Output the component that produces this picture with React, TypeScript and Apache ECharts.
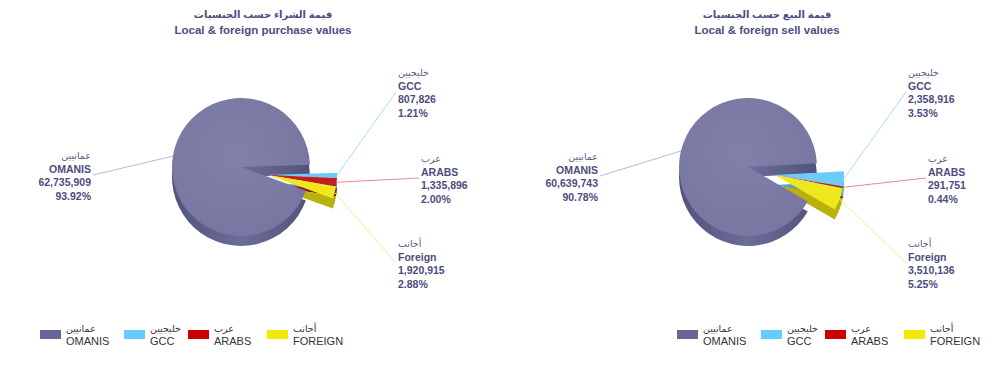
import React, { useEffect, useRef } from "react";
import * as echarts from "echarts";

// ---- data ----
const categoriesEn = ["OMANIS", "GCC", "ARABS", "FOREIGN"];
const labelNamesEn = ["OMANIS", "GCC", "ARABS", "Foreign"];
const categoriesAr = ["عمانيين", "خليجيين", "عرب", "أجانب"];
const purchaseValues = [62735909, 807826, 1335896, 1920915];
const purchasePercents = ["93.92%", "1.21%", "2.00%", "2.88%"];
const sellValues = [60639743, 2358916, 291751, 3510136];
const sellPercents = ["90.78%", "3.53%", "0.44%", "5.25%"];
const titlesAr = ["قيمة الشراء حسب الجنسيات", "قيمة البيع حسب الجنسيات"];
const titlesEn = ["Local & foreign purchase values", "Local & foreign sell values"];

// ---- styles / layout ----
const topColors = ["#7b7ba7", "#6ecbf7", "#c41f1f", "#f0e81e"];
const sideColors = ["#585886", "#4aa6d0", "#8c0e0e", "#b9b20c"];
const legendColors = ["#666699", "#66ccff", "#cc0000", "#f2ea00"];
const lineColors = ["#b8b8d0", "#a8def8", "#e88a8a", "#f2ee90"];
const textColor = "#4d4d80";
const FONT = "Arial, 'Liberation Sans', 'DejaVu Sans', sans-serif";

type LabelPos = { x: number; y: number; align: "left" | "right" };

const charts = [
  {
    values: purchaseValues,
    pcts: purchasePercents,
    center: [241, 167],
    explode: [27, 8],
    startAngle: 340,
    titleX: 258,
    legendLeft: 35,
    labelPos: [
      { x: 91, y: 149, align: "right" },
      { x: 398, y: 66, align: "left" },
      { x: 421, y: 152, align: "left" },
      { x: 398, y: 237, align: "left" },
    ] as LabelPos[],
  },
  {
    values: sellValues,
    pcts: sellPercents,
    center: [748, 167],
    explode: [27, 8],
    startAngle: 330,
    titleX: 762,
    legendLeft: 672,
    labelPos: [
      { x: 598, y: 150, align: "right" },
      { x: 908, y: 66, align: "left" },
      { x: 928, y: 152, align: "left" },
      { x: 908, y: 237, align: "left" },
    ] as LabelPos[],
  },
];
const legendOffsets = [0, 84, 148, 227];
const RADIUS = 69;
const DEPTH = 10;

function buildOption() {
  const series: any[] = [];
  const title: any[] = [];
  const legend: any[] = [];

  charts.forEach((c, ci) => {
    title.push({
      text: `{ar|${titlesAr[ci]}}\n{en|${titlesEn[ci]}}`,
      left: c.titleX,
      top: 2,
      textAlign: "center",
      textStyle: {
        rich: {
          ar: { fontSize: 10, color: textColor, fontFamily: FONT, lineHeight: 15, align: "center" },
          en: { fontSize: 11.5, fontWeight: "bold", color: textColor, fontFamily: FONT, lineHeight: 15, align: "center" },
        },
      },
    });

    categoriesEn.forEach((name, i) => {
      legend.push({
        left: c.legendLeft + legendOffsets[i],
        top: 318,
        orient: "horizontal",
        selectedMode: false,
        icon: "rect",
        itemWidth: 21,
        itemHeight: 9,
        itemGap: 6,
        data: [{ name, itemStyle: { color: legendColors[i] } }],
        formatter: (n: string) => `{ar|${categoriesAr[categoriesEn.indexOf(n)]}}\n{en|${n}}`,
        textStyle: {
          rich: {
            ar: { fontSize: 9.5, color: "#333", fontFamily: FONT, lineHeight: 12 },
            en: { fontSize: 11, color: "#333", fontFamily: FONT, lineHeight: 13 },
          },
        },
      });
    });

    const sideGradient = new echarts.graphic.LinearGradient(0, 0, 1, 0, [
      { offset: 0, color: "#52527e" },
      { offset: 0.5, color: "#6c6c98" },
      { offset: 1, color: "#52527e" },
    ]);
    const topGradient = new echarts.graphic.RadialGradient(0.45, 0.4, 0.8, [
      { offset: 0, color: "#8080ab" },
      { offset: 1, color: "#74749f" },
    ]);

    // group 0 = main slice (OMANIS), group 1 = exploded small slices
    [0, 1].forEach((group) => {
      const visible = (i: number) => (group === 0 ? i === 0 : i > 0);
      const cx = c.center[0] + (group === 1 ? c.explode[0] : 0);
      const cy = c.center[1] + (group === 1 ? c.explode[1] : 0);

      // side / depth layer
      series.push({
        type: "pie",
        z: 1,
        silent: true,
        center: [cx, cy + DEPTH],
        radius: RADIUS,
        startAngle: c.startAngle,
        label: { show: false },
        labelLine: { show: false },
        emphasis: { disabled: true },
        data: c.values.map((v, i) => ({
          name: categoriesEn[i],
          value: v,
          itemStyle: {
            color: visible(i) ? (i === 0 ? sideGradient : sideColors[i]) : "rgba(0,0,0,0)",
          },
        })),
      });
    });

    [0, 1].forEach((group) => {
      const visible = (i: number) => (group === 0 ? i === 0 : i > 0);
      const cx = c.center[0] + (group === 1 ? c.explode[0] : 0);
      const cy = c.center[1] + (group === 1 ? c.explode[1] : 0);
      // top face
      series.push({
        type: "pie",
        z: 2,
        silent: true,
        center: [cx, cy],
        radius: RADIUS,
        startAngle: c.startAngle,
        avoidLabelOverlap: false,
        emphasis: { disabled: true },
        label: {
          show: true,
          position: "outside",
          fontFamily: FONT,
          formatter: (p: any) =>
            `{ar|${categoriesAr[p.dataIndex]}}\n{nm|${labelNamesEn[p.dataIndex]}}\n{vl|${(c.values[p.dataIndex] as number).toLocaleString("en-US")}}\n{vl|${c.pcts[p.dataIndex]}}`,
          rich: {
            ar: { fontSize: 9.5, color: "#5a5a80", fontFamily: FONT, lineHeight: 13 },
            nm: { fontSize: 10.5, fontWeight: "bold", color: textColor, fontFamily: FONT, lineHeight: 13.5 },
            vl: { fontSize: 10.5, fontWeight: "bold", color: textColor, fontFamily: FONT, lineHeight: 13.5 },
          },
        },
        labelLine: { show: true, length: 10, length2: 10, smooth: false, lineStyle: { width: 1 } },
        labelLayout: (params: any) => {
          const p = c.labelPos[params.dataIndex];
          const endX = p.align === "right" ? p.x + 2 : p.x - 2;
          const endY = p.y + 26;
          const pts = params.labelLinePoints;
          const start = pts && pts.length ? pts[0] : [endX, endY];
          return {
            x: p.x,
            y: p.y,
            align: p.align,
            verticalAlign: "top",
            labelLinePoints: [start, [endX, endY]],
          };
        },
        data: c.values.map((v, i) => ({
          name: categoriesEn[i],
          value: v,
          itemStyle: {
            color: visible(i) ? (i === 0 ? topGradient : topColors[i]) : "rgba(0,0,0,0)",
          },
          label: { show: visible(i) },
          labelLine: { show: visible(i), lineStyle: { color: lineColors[i] } },
        })),
      });
    });
  });

  return {
    animation: false,
    backgroundColor: "#ffffff",
    title,
    legend,
    series,
  };
}

export default function App() {
  const ref = useRef<HTMLDivElement>(null);
  useEffect(() => {
    if (!ref.current) return;
    const chart = echarts.init(ref.current, undefined, { renderer: "svg" });
    chart.setOption(buildOption() as any);
    return () => chart.dispose();
  }, []);
  return (
    <div
      ref={ref}
      style={{ position: "fixed", left: 0, top: 0, width: 1000, height: 386, background: "#fff" }}
    />
  );
}
